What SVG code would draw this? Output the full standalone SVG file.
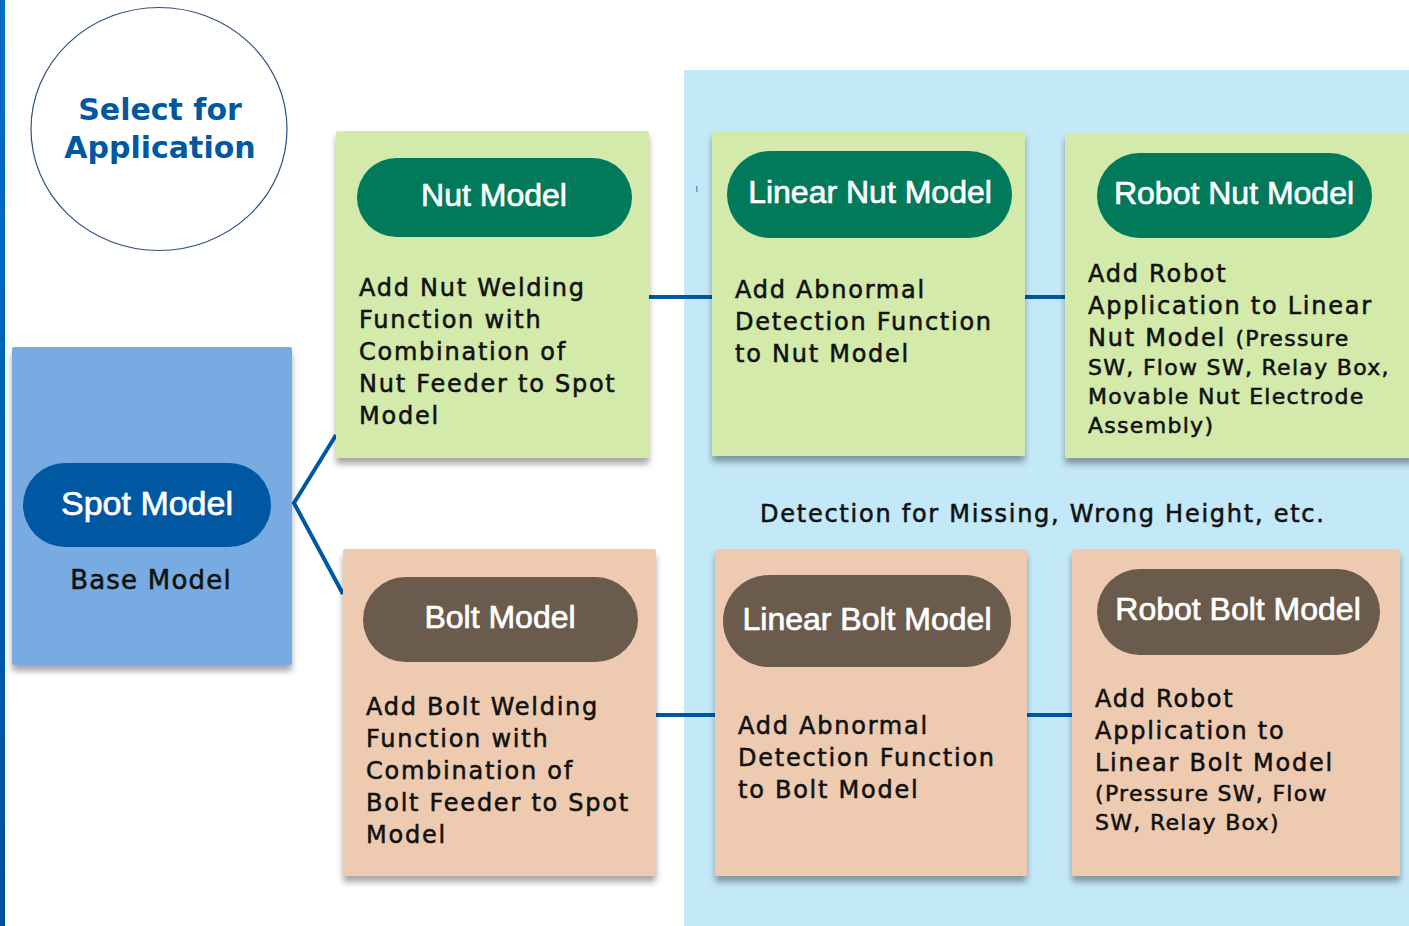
<svg xmlns="http://www.w3.org/2000/svg" width="1409" height="926" viewBox="0 0 1409 926">
<defs>
<linearGradient id="bar" x1="0" y1="0" x2="0" y2="1"><stop offset="0" stop-color="#0070c0"/><stop offset="1" stop-color="#004f9a"/></linearGradient>
<filter id="sh" x="-10%" y="-10%" width="120%" height="125%"><feDropShadow dx="0" dy="6" stdDeviation="3" flood-color="#000" flood-opacity="0.35"/></filter>
</defs>
<style>
.box{filter:url(#sh)}
.nut{fill:#d3eaaa}
.bolt{fill:#eecbb0}
.pg{fill:#007a5a}
.pb{fill:#6b5b4c}
.pt{font-family:"Liberation Sans",Arial,sans-serif;font-size:32px;fill:#fff;stroke:#fff;stroke-width:0.7px;text-anchor:middle}
.bd{font-family:"DejaVu Sans",Verdana,sans-serif;font-size:24px;fill:#111;stroke:#111;stroke-width:0.55px;letter-spacing:1.75px}
.sm{font-size:22px;letter-spacing:1.3px}
.con{stroke:#0058a3;stroke-width:4;fill:none}
</style>
<rect x="0" y="0" width="1409" height="926" fill="#fff"/>
<rect x="0" y="0" width="5" height="926" fill="url(#bar)"/>
<rect x="684" y="70" width="725" height="856" fill="#c3e8f7"/>
<rect x="696" y="186" width="1.5" height="6" fill="#5b9bd5"/>

<g id="connectors">
<polyline class="con" points="336,435 294,503 343,594"/>
<line class="con" x1="649" y1="297" x2="712" y2="297"/>
<line class="con" x1="1025" y1="297" x2="1065" y2="297"/>
<line class="con" x1="656" y1="715" x2="715" y2="715"/>
<line class="con" x1="1027" y1="715" x2="1072" y2="715"/>
</g>

<g id="select">
<ellipse cx="159" cy="129" rx="128" ry="121.5" fill="#fff" stroke="#2f4f80" stroke-width="1.2"/>
<text x="160" y="120" text-anchor="middle" font-family="DejaVu Sans,Verdana,sans-serif" font-weight="bold" font-size="30" fill="#0058a3">Select for</text>
<text x="160" y="158" text-anchor="middle" font-family="DejaVu Sans,Verdana,sans-serif" font-weight="bold" font-size="30" fill="#0058a3">Application</text>
</g>

<g id="spot">
<rect class="box" x="12" y="347" width="280" height="318" rx="2" fill="#78abe2"/>
<rect x="23" y="463" width="248" height="84" rx="42" fill="#0058a3"/>
<text class="pt" x="147" y="515" style="font-size:34px">Spot Model</text>
<text class="bd" x="151" y="589" text-anchor="middle" style="font-size:26px;letter-spacing:1.2px">Base Model</text>
</g>

<g id="nut">
<rect class="box nut" x="336" y="131" width="313" height="327" rx="2"/>
<rect class="pg" x="357" y="158" width="275" height="79" rx="39.5"/>
<text class="pt" x="494" y="206">Nut Model</text>
<text class="bd"><tspan x="359" y="296">Add Nut Welding</tspan><tspan x="359" y="328">Function with</tspan><tspan x="359" y="360">Combination of</tspan><tspan x="359" y="392">Nut Feeder to Spot</tspan><tspan x="359" y="424">Model</tspan></text>
</g>

<g id="linear-nut">
<rect class="box nut" x="712" y="131" width="313" height="325" rx="2"/>
<rect class="pg" x="727" y="151" width="285" height="87" rx="43.5"/>
<text class="pt" x="870" y="203">Linear Nut Model</text>
<text class="bd"><tspan x="735" y="298">Add Abnormal</tspan><tspan x="735" y="330">Detection Function</tspan><tspan x="735" y="362">to Nut Model</tspan></text>
</g>

<g id="robot-nut">
<rect class="box nut" x="1065" y="133" width="350" height="325" rx="2"/>
<rect class="pg" x="1097" y="153" width="275" height="85" rx="42.5"/>
<text class="pt" x="1234" y="204">Robot Nut Model</text>
<text class="bd"><tspan x="1088" y="282">Add Robot</tspan><tspan x="1088" y="314">Application to Linear</tspan><tspan x="1088" y="346">Nut Model <tspan class="sm">(Pressure</tspan></tspan><tspan class="sm" x="1088" y="375">SW, Flow SW, Relay Box,</tspan><tspan class="sm" x="1088" y="404">Movable Nut Electrode</tspan><tspan class="sm" x="1088" y="433">Assembly)</tspan></text>
</g>

<text id="detection" class="bd" x="760" y="522">Detection for Missing, Wrong Height, etc.</text>

<g id="bolt">
<rect class="box bolt" x="343" y="549" width="313" height="327" rx="2"/>
<rect class="pb" x="363" y="577" width="275" height="85" rx="42.5"/>
<text class="pt" x="500" y="628">Bolt Model</text>
<text class="bd"><tspan x="366" y="715">Add Bolt Welding</tspan><tspan x="366" y="747">Function with</tspan><tspan x="366" y="779">Combination of</tspan><tspan x="366" y="811">Bolt Feeder to Spot</tspan><tspan x="366" y="843">Model</tspan></text>
</g>

<g id="linear-bolt">
<rect class="box bolt" x="715" y="549" width="312" height="327" rx="2"/>
<rect class="pb" x="723" y="575" width="288" height="92" rx="46"/>
<text class="pt" x="867" y="630">Linear Bolt Model</text>
<text class="bd"><tspan x="738" y="734">Add Abnormal</tspan><tspan x="738" y="766">Detection Function</tspan><tspan x="738" y="798">to Bolt Model</tspan></text>
</g>

<g id="robot-bolt">
<rect class="box bolt" x="1072" y="549" width="328" height="327" rx="2"/>
<rect class="pb" x="1097" y="569" width="283" height="86" rx="43"/>
<text class="pt" x="1238" y="620">Robot Bolt Model</text>
<text class="bd"><tspan x="1095" y="707">Add Robot</tspan><tspan x="1095" y="739">Application to</tspan><tspan x="1095" y="771">Linear Bolt Model</tspan><tspan class="sm" x="1095" y="801">(Pressure SW, Flow</tspan><tspan class="sm" x="1095" y="830">SW, Relay Box)</tspan></text>
</g>
</svg>
